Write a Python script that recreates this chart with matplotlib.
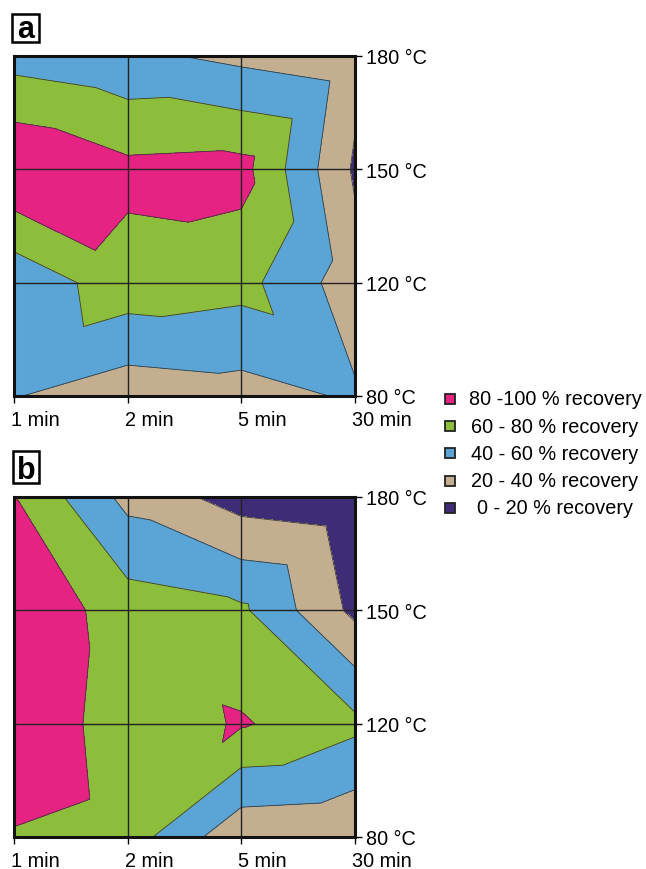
import numpy as np
import matplotlib
matplotlib.use('Agg')
import matplotlib.pyplot as plt
import matplotlib.tri as mtri
from matplotlib.patches import Rectangle
from matplotlib.transforms import ScaledTranslation

plt.rcParams['font.family'] = ['Liberation Sans', 'DejaVu Sans']

# heating time (columns) and temperature (rows, bottom to top)
times = ['1 min', '2 min', '5 min', '30 min']
temps = ['80 °C', '120 °C', '150 °C', '180 °C']

# recovery in %, one list per temperature row (80, 120, 150, 180 °C)
rec_a = [
    [41, 28, 32, 42.4],
    [45, 72, 67, 28.5],
    [100, 85, 87, 17],
    [52, 44.5, 35, 26.7],
]
rec_b = [
    [78, 70, 25, 22],
    [100, 67, 82, 65],
    [97, 70, 63.5, 15],
    [80.5, 34, 11, 5],
]

levels = [0, 20, 40, 60, 80, 100]
band_colors = ['#3F2C77', '#C4AE90', '#5AA5D5', '#8CBD3B', '#E62282']
legend_labels = ['80 -100 % recovery', '60 - 80 % recovery', '40 - 60 % recovery',
                 '20 - 40 % recovery', '0 - 20 % recovery']

W, H = 646, 870


def fx(px):
    return px / W


def fy(py):
    return 1 - py / H


def grid_triangulation(z):
    # split each cell along the diagonal with the higher corner sum (Excel style)
    ny, nx = z.shape
    X, Y = np.meshgrid(np.arange(nx), np.arange(ny))
    zf = z.ravel()
    tris = []
    for j in range(ny - 1):
        for i in range(nx - 1):
            bl = j * nx + i
            br = bl + 1
            tl = bl + nx
            tr = tl + 1
            if zf[bl] + zf[tr] >= zf[tl] + zf[br]:
                tris += [[bl, br, tr], [bl, tr, tl]]
            else:
                tris += [[bl, br, tl], [br, tr, tl]]
    return mtri.Triangulation(X.ravel(), Y.ravel(), tris), zf


fig = plt.figure(figsize=(W / 100, H / 100), dpi=100)


def draw_panel(data, top_px, bottom_px, letter, box):
    ax = fig.add_axes([fx(14), fy(bottom_px), fx(355) - fx(14), fy(top_px) - fy(bottom_px)])
    z = np.array(data, dtype=float)
    tri, zf = grid_triangulation(z)
    ax.tricontourf(tri, zf, levels=levels, colors=band_colors)
    ax.tricontour(tri, zf, levels=levels[1:-1], colors='#3a3a3a', linewidths=0.6)
    for k in (1, 2):
        ax.axvline(k, color='#222222', lw=1.0, zorder=3)
        ax.axhline(k, color='#222222', lw=1.0, zorder=3)
    ax.set_xlim(0, len(times) - 1)
    ax.set_ylim(0, len(temps) - 1)
    ax.set_xticks(range(len(times)))
    ax.set_xticklabels(times)
    ax.set_yticks(range(len(temps)))
    ax.set_yticklabels(temps)
    ax.yaxis.tick_right()
    ax.tick_params(axis='both', direction='out', length=5, width=1, labelsize=14.3,
                   colors='black')
    ax.tick_params(axis='x', pad=5)
    ax.tick_params(axis='y', pad=3)
    shift = ScaledTranslation(-3 / 100, 0, fig.dpi_scale_trans)
    for lbl in ax.get_xticklabels():
        lbl.set_ha('left')
        lbl.set_transform(lbl.get_transform() + shift)
    for s in ax.spines.values():
        s.set_linewidth(2.2)
        s.set_color('#111111')
        s.set_zorder(4)

    x0, y0, x1, y1 = box
    fig.patches.append(Rectangle((fx(x0), fy(y1)), fx(x1) - fx(x0), fy(y0) - fy(y1),
                                 transform=fig.transFigure, fc='white', ec='black', lw=1.8))
    fig.text(fx((x0 + x1) / 2), fy(y1 - 5), letter, fontsize=22, fontweight='bold',
             ha='center', va='baseline')
    return ax


draw_panel(rec_a, 57, 397, 'a', (12, 15, 39, 43))
draw_panel(rec_b, 498, 838, 'b', (13, 452, 39, 484))

# legend, top band first
for i, (lab, col) in enumerate(zip(legend_labels, band_colors[::-1])):
    yc = 400 + 27.2 * i
    fig.patches.append(Rectangle((fx(445), fy(yc + 5)), fx(10), 10 / H,
                                 transform=fig.transFigure, fc=col, ec='#222222', lw=1.3))
    fig.text(fx(555), fy(yc), lab, fontsize=14.3, ha='center', va='center')

fig.savefig('out.png', dpi=100)
